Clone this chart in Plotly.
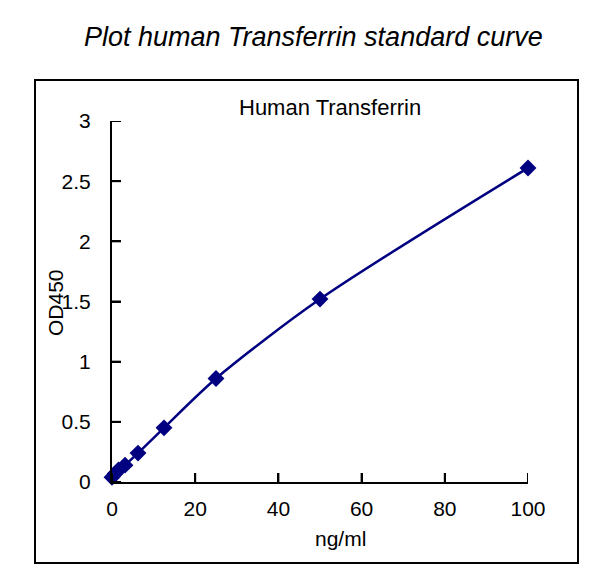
import plotly.graph_objects as go

conc = [0, 0.78, 1.56, 3.125, 6.25, 12.5, 25, 50, 100]
od450 = [0.04, 0.07, 0.10, 0.14, 0.24, 0.45, 0.86, 1.52, 2.61]
x_ticks = [0, 20, 40, 60, 80, 100]
y_ticks = [0, 0.5, 1, 1.5, 2, 2.5, 3]
y_tick_labels = ["0", "0.5", "1", "1.5", "2", "2.5", "3"]

FONT = "Liberation Sans, Arial, sans-serif"
L, R, T, B = 112, 84, 121, 83
W, H = 612, 565
pw, ph = W - L - R, H - T - B
TICK = 9

def px_x(p):
    return (p - L) / pw

def px_y(p):
    return (H - B - p) / ph

fig = go.Figure()
fig.add_trace(go.Scatter(
    x=conc, y=od450, mode="lines+markers",
    line=dict(color="#000080", width=2.5, shape="spline", smoothing=0.8),
    marker=dict(symbol="diamond", size=13, color="#000080"),
    cliponaxis=False, showlegend=False,
))

shapes = [dict(type="rect", xref="paper", yref="paper",
               x0=px_x(35), x1=px_x(578), y0=px_y(563), y1=px_y(80),
               line=dict(color="black", width=2), layer="below")]
for xv in x_ticks:
    shapes.append(dict(type="line", xref="x", yref="paper", x0=xv, x1=xv,
                       y0=0, y1=TICK / ph, line=dict(color="black", width=2)))
for yv in y_ticks:
    shapes.append(dict(type="line", xref="paper", yref="y", x0=0, x1=TICK / pw,
                       y0=yv, y1=yv, line=dict(color="black", width=2)))

fig.update_layout(
    width=W, height=H,
    margin=dict(l=L, r=R, t=T, b=B),
    paper_bgcolor="white", plot_bgcolor="white",
    font=dict(family=FONT, color="black"),
    xaxis=dict(range=[0, 100], tickvals=x_ticks, ticks="inside", ticklen=TICK,
               tickcolor="black", tickwidth=2, showline=True, linecolor="black",
               linewidth=2, showgrid=False, zeroline=False,
               tickfont=dict(size=21, family=FONT), ticklabelstandoff=7),
    yaxis=dict(range=[0, 3], tickvals=y_ticks, ticktext=y_tick_labels, ticks="inside",
               ticklen=TICK, tickcolor="black", tickwidth=2, showline=True,
               linecolor="black", linewidth=2, showgrid=False, zeroline=False,
               tickfont=dict(size=21, family=FONT), ticklabelstandoff=15),
    shapes=shapes,
    annotations=[
        dict(text="<i>Plot human Transferrin standard curve</i>", xref="paper", yref="paper",
             x=px_x(313), y=px_y(37), xanchor="center", yanchor="middle",
             showarrow=False, font=dict(size=27, family=FONT)),
        dict(text="Human Transferrin", xref="paper", yref="paper",
             x=px_x(330), y=px_y(108), xanchor="center", yanchor="middle",
             showarrow=False, font=dict(size=22, family=FONT)),
        dict(text="ng/ml", xref="paper", yref="paper",
             x=px_x(340), y=px_y(538), xanchor="center", yanchor="middle",
             showarrow=False, font=dict(size=21, family=FONT)),
        dict(text="OD450", xref="paper", yref="paper", textangle=-90,
             x=px_x(55), y=px_y(302), xanchor="center", yanchor="middle",
             showarrow=False, font=dict(size=21, family=FONT)),
    ],
)

fig.write_html("out.html", config={"displayModeBar": False},
               post_script="document.body.style.margin='0';document.body.style.overflow='hidden';")
